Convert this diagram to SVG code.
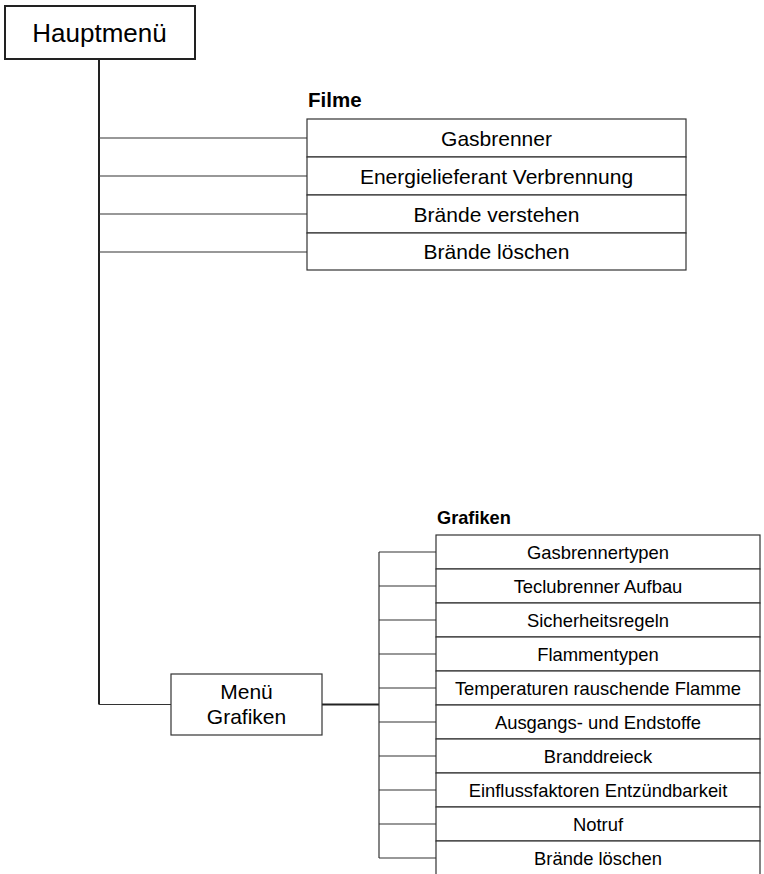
<svg xmlns="http://www.w3.org/2000/svg" width="764" height="874" viewBox="0 0 764 874">
<style>
text{font-family:"Liberation Sans",Arial,sans-serif;fill:#000;text-anchor:middle}
.box{fill:#fff;stroke:#333;stroke-width:1.2}
.c{fill:none;stroke:#333;stroke-width:1.2}
.thick{fill:none;stroke:#222;stroke-width:2}
.f{font-size:21px}
.g{font-size:18.4px}
.lbl{font-weight:bold;text-anchor:start}
</style>
<rect width="764" height="874" fill="#fff"/>
<g id="connectors">
<line class="thick" x1="99" y1="59" x2="99" y2="704.5"/>
<line class="c" x1="99" y1="138" x2="307" y2="138"/>
<line class="c" x1="99" y1="176" x2="307" y2="176"/>
<line class="c" x1="99" y1="214" x2="307" y2="214"/>
<line class="c" x1="99" y1="252" x2="307" y2="252"/>
<line class="c" x1="99" y1="704.5" x2="171" y2="704.5"/>
<line class="thick" x1="322" y1="704.5" x2="379" y2="704.5"/>
<line class="c" x1="379" y1="552" x2="379" y2="858"/>
<line class="c" x1="379" y1="552" x2="436" y2="552"/>
<line class="c" x1="379" y1="586" x2="436" y2="586"/>
<line class="c" x1="379" y1="620" x2="436" y2="620"/>
<line class="c" x1="379" y1="654" x2="436" y2="654"/>
<line class="c" x1="379" y1="688" x2="436" y2="688"/>
<line class="c" x1="379" y1="722" x2="436" y2="722"/>
<line class="c" x1="379" y1="756" x2="436" y2="756"/>
<line class="c" x1="379" y1="790" x2="436" y2="790"/>
<line class="c" x1="379" y1="824" x2="436" y2="824"/>
<line class="c" x1="379" y1="858" x2="436" y2="858"/>
</g>
<g id="hauptmenue">
<rect x="5" y="6" width="190" height="53" fill="#fff" stroke="#222" stroke-width="2"/>
<text x="99.5" y="42.3" font-size="26">Hauptmenü</text>
</g>
<g id="filme">
<text class="lbl" x="308" y="107" font-size="20.5">Filme</text>
<g id="f1"><rect class="box" x="307" y="119" width="379" height="38"/><text class="f" x="496.5" y="145.7">Gasbrenner</text></g>
<g id="f2"><rect class="box" x="307" y="157" width="379" height="38"/><text class="f" x="496.5" y="183.7">Energielieferant Verbrennung</text></g>
<g id="f3"><rect class="box" x="307" y="195" width="379" height="38"/><text class="f" x="496.5" y="221.7">Brände verstehen</text></g>
<g id="f4"><rect class="box" x="307" y="233" width="379" height="37"/><text class="f" x="496.5" y="259.2">Brände löschen</text></g>
</g>
<g id="menue-grafiken">
<rect class="box" x="171" y="674" width="151" height="61"/>
<text x="246.5" y="699.3" font-size="21">Menü</text>
<text x="246.5" y="724" font-size="21">Grafiken</text>
</g>
<g id="grafiken">
<text class="lbl" x="437" y="524.3" font-size="18.2">Grafiken</text>
<g id="g1"><rect class="box" x="436" y="535" width="324" height="34"/><text class="g" x="598" y="559.3">Gasbrennertypen</text></g>
<g id="g2"><rect class="box" x="436" y="569" width="324" height="34"/><text class="g" x="598" y="593.3">Teclubrenner Aufbau</text></g>
<g id="g3"><rect class="box" x="436" y="603" width="324" height="34"/><text class="g" x="598" y="627.3">Sicherheitsregeln</text></g>
<g id="g4"><rect class="box" x="436" y="637" width="324" height="34"/><text class="g" x="598" y="661.3">Flammentypen</text></g>
<g id="g5"><rect class="box" x="436" y="671" width="324" height="34"/><text class="g" x="598" y="695.3">Temperaturen rauschende Flamme</text></g>
<g id="g6"><rect class="box" x="436" y="705" width="324" height="34"/><text class="g" x="598" y="729.3">Ausgangs- und Endstoffe</text></g>
<g id="g7"><rect class="box" x="436" y="739" width="324" height="34"/><text class="g" x="598" y="763.3">Branddreieck</text></g>
<g id="g8"><rect class="box" x="436" y="773" width="324" height="34"/><text class="g" x="598" y="797.3">Einflussfaktoren Entzündbarkeit</text></g>
<g id="g9"><rect class="box" x="436" y="807" width="324" height="34"/><text class="g" x="598" y="831.3">Notruf</text></g>
<g id="g10"><rect class="box" x="436" y="841" width="324" height="40"/><text class="g" x="598" y="865.3">Brände löschen</text></g>
</g>
</svg>
